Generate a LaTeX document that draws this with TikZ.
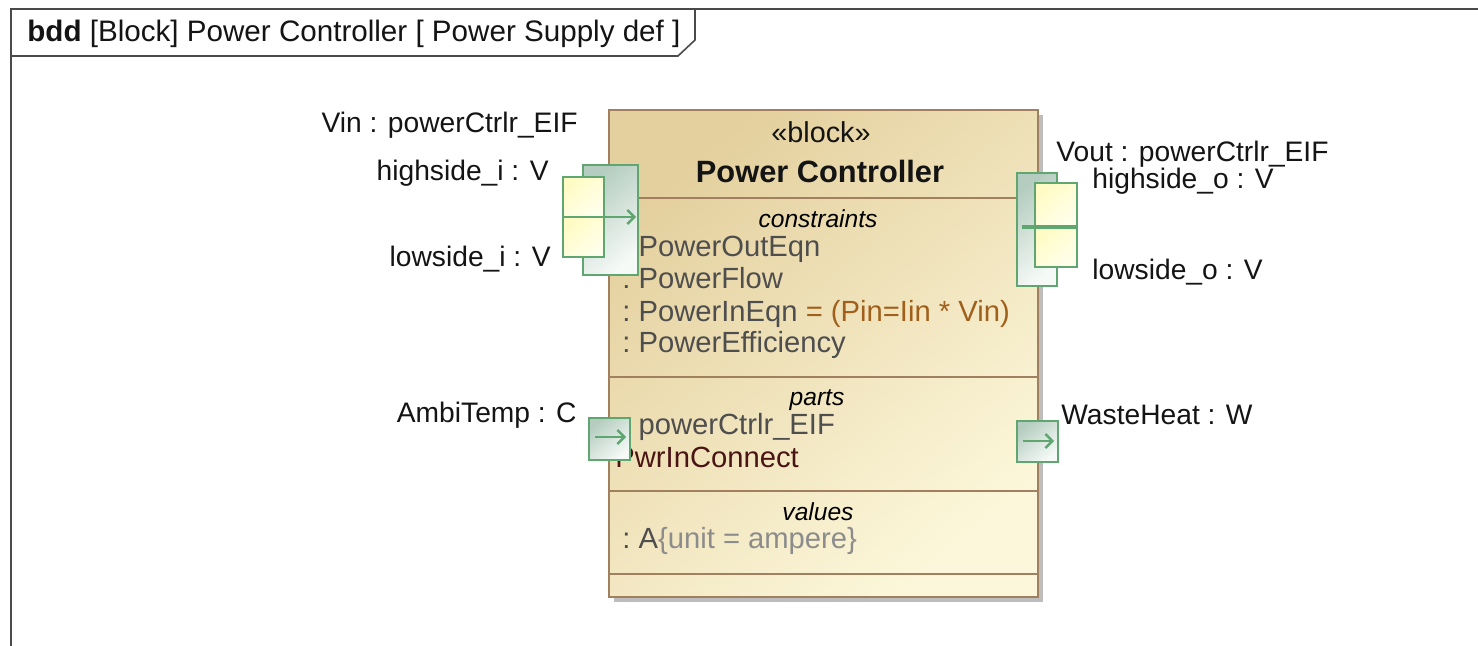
\documentclass[tikz,border=0pt]{standalone}
\usepackage{fontspec}
\setmainfont{Liberation Sans}
\usetikzlibrary{arrows.meta}
\definecolor{framec}{HTML}{4A4A4A}
\definecolor{blockborder}{HTML}{A0805E}
\definecolor{blocktop}{HTML}{E4D09E}
\definecolor{blockbot}{HTML}{FCF7DA}
\definecolor{shadowc}{HTML}{BDBDBD}
\definecolor{portgreen}{HTML}{5FA670}
\definecolor{porttop}{HTML}{B5CDC0}
\definecolor{portbot}{HTML}{F6FAF7}
\definecolor{inntop}{HTML}{FFFBC4}
\definecolor{innbot}{HTML}{FFFFEC}
\definecolor{entryc}{HTML}{4E4E4E}
\definecolor{eqc}{HTML}{A0601C}
\definecolor{connc}{HTML}{4A1414}
\definecolor{unitc}{HTML}{8C8C8C}
\tikzset{
  frameline/.style={draw=framec, line width=0.8pt},
  lbl/.style={inner sep=0pt, font=\fontsize{14.1}{16}\selectfont, text=black!92},
  entry/.style={inner sep=0pt, font=\fontsize{14.6}{16}\selectfont, text=entryc},
  comphead/.style={inner sep=0pt, font=\fontsize{12.3}{14}\selectfont\itshape, text=black},
  blockbox/.style={draw=blockborder, line width=1pt, top color=blocktop, bottom color=blockbot, shading angle=40},
  compline/.style={draw=blockborder, line width=1pt},
  portouter/.style={draw=portgreen, line width=1pt, top color=porttop, bottom color=portbot, shading angle=40},
  portinner/.style={draw=portgreen, line width=1pt, top color=inntop, bottom color=innbot, shading angle=40},
  flowarrow/.style={draw=portgreen, line width=1.2pt, -{Straight Barb[length=3.5pt,width=7pt]}},
  flowline/.style={draw=portgreen, line width=1.8pt},
}
\begin{document}
\begin{tikzpicture}[x=0.5pt,y=-0.5pt]
\useasboundingbox (0,0) rectangle (1478,646);
\fill[white] (0,0) rectangle (1478,646);

% diagram frame and tab
\draw[frameline] (1478,9) -- (11,9) -- (11,646);
\draw[frameline] (11,56) -- (678,56) -- (695,40) -- (695,9);
\node[lbl, anchor=base west, font=\fontsize{14.8}{16}\selectfont] (title) at (27,42)
  {\textbf{bdd} [Block] Power Controller [ Power Supply def ]};

% block with shadow
\fill[shadowc] (614,115) rectangle (1043,602);
\path[blockbox] (609,110) rectangle (1038,597);
\draw[compline] (609,198) -- (1038,198);
\draw[compline] (609,377) -- (1038,377);
\draw[compline] (609,491) -- (1038,491);
\draw[compline] (609,574) -- (1038,574);

% block header
\node[lbl, anchor=base, font=\fontsize{14.4}{16}\selectfont] (stereo) at (821,143) {«block»};
\node[lbl, anchor=base, font=\fontsize{15.4}{17}\selectfont\bfseries] (bname) at (820,183) {Power Controller};

% constraints
\node[comphead, anchor=base] (hcons) at (818,228) {constraints};
\node[entry, anchor=base west] (c1) at (622,257) {:\ PowerOutEqn};
\node[entry, anchor=base west] (c2) at (622,289) {:\ PowerFlow};
\node[entry, anchor=base west] (c3) at (622,322) {:\ PowerInEqn {\color{eqc}= (Pin=Iin * Vin)}};
\node[entry, anchor=base west] (c4) at (622,353) {:\ PowerEfficiency};

% parts
\node[comphead, anchor=base] (hparts) at (817,406) {parts};
\node[entry, anchor=base west] (p1) at (622,435) {:\ powerCtrlr\_EIF};
\node[entry, anchor=base west, text=connc] (p2) at (615,468) {PwrInConnect};

% values
\node[comphead, anchor=base] (hvals) at (818,520) {values};
\node[entry, anchor=base west] (v1) at (622,548) {:\ A{\color{unitc}\{unit = ampere\}}};

% Vin port
\path[portouter] (583,165) rectangle (638,275);
\path[portinner] (563,177) rectangle (604,217);
\path[portinner] (563,217) rectangle (604,257);
\coordinate (vinA) at (604,217);
\coordinate (vinB) at (636,217);
\draw[flowarrow] (vinA) -- (vinB);

% Vout port
\path[portouter] (1017,173) rectangle (1057,286);
\path[portinner] (1035,183) rectangle (1077,227);
\path[portinner] (1035,227) rectangle (1077,267);
\coordinate (voutA) at (1022,227);
\coordinate (voutB) at (1077,227);
\draw[flowline] (voutA) -- (voutB);

% AmbiTemp port
\path[portouter] (589,418) rectangle (630,460);
\coordinate (ambA) at (595,437);
\coordinate (ambB) at (626,437);
\draw[flowarrow] (ambA) -- (ambB);

% WasteHeat port
\path[portouter] (1017,421) rectangle (1058,462);
\coordinate (whA) at (1023,441);
\coordinate (whB) at (1054,441);
\draw[flowarrow] (whA) -- (whB);

% port labels
\node[lbl, anchor=base east] (lvin) at (578,133) {Vin : powerCtrlr\_EIF};
\node[lbl, anchor=base east] (lhi) at (549,181) {highside\_i : V};
\node[lbl, anchor=base east] (llo) at (551,267) {lowside\_i : V};
\node[lbl, anchor=base west] (lvout) at (1056,162) {Vout : powerCtrlr\_EIF};
\node[lbl, anchor=base west] (lho) at (1092,189) {highside\_o : V};
\node[lbl, anchor=base west] (llo2) at (1092,280) {lowside\_o : V};
\node[lbl, anchor=base east] (lamb) at (577,423) {AmbiTemp : C};
\node[lbl, anchor=base west] (lwh) at (1061,425) {WasteHeat : W};
\end{tikzpicture}
\end{document}
